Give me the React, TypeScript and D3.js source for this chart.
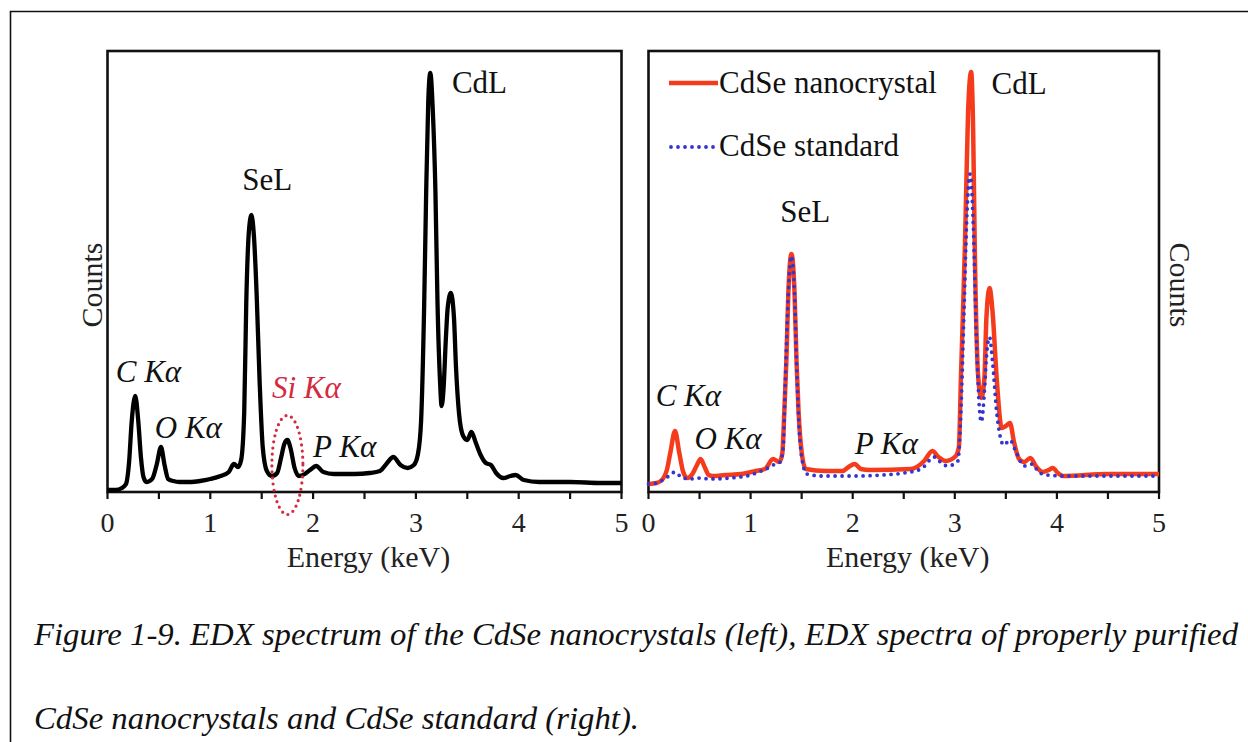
import React from "react";
import * as d3 from "d3";

// ---------- data ----------
const xTicks = [0, 1, 2, 3, 4, 5];
const xMinorTicks = [0, 0.5, 1, 1.5, 2, 2.5, 3, 3.5, 4, 4.5, 5];

const leftEnergy = [0, 0.08, 0.14, 0.18, 0.21, 0.235, 0.27, 0.3, 0.325, 0.35, 0.38, 0.41, 0.44, 0.48, 0.52, 0.555, 0.59, 0.64, 0.7, 0.8, 0.9, 1.0, 1.1, 1.18, 1.23, 1.27, 1.3, 1.33, 1.35, 1.375, 1.4, 1.425, 1.45, 1.48, 1.51, 1.55, 1.6, 1.65, 1.69, 1.72, 1.75, 1.78, 1.82, 1.86, 1.92, 1.97, 2.03, 2.1, 2.2, 2.4, 2.55, 2.65, 2.72, 2.78, 2.85, 2.92, 2.98, 3.02, 3.05, 3.08, 3.1, 3.12, 3.14, 3.165, 3.19, 3.21, 3.235, 3.25, 3.27, 3.29, 3.31, 3.34, 3.37, 3.39, 3.42, 3.46, 3.5, 3.54, 3.58, 3.63, 3.68, 3.73, 3.78, 3.85, 3.92, 3.97, 4.05, 4.2, 4.5, 4.8, 5.0];
const leftCounts = [2, 2, 4, 8, 30, 70, 96, 70, 35, 15, 10, 11, 14, 28, 45, 27, 13, 11, 10, 10, 11, 13, 16, 20, 28, 25, 32, 80, 190, 260, 277, 255, 200, 110, 45, 21, 16, 19, 35, 48, 52, 44, 24, 16, 18, 22, 26, 20, 18, 18, 19, 21, 29, 35, 27, 24, 27, 38, 70, 185, 300, 390, 419, 380, 300, 190, 110, 86, 105, 150, 185, 199, 175, 125, 78, 56, 52, 60, 50, 37, 29, 27, 19, 14, 16, 17, 12, 10, 10, 9, 9];

const nanoEnergy = [0, 0.08, 0.14, 0.18, 0.215, 0.26, 0.3, 0.34, 0.38, 0.43, 0.47, 0.51, 0.55, 0.59, 0.63, 0.75, 0.91, 1.05, 1.14, 1.22, 1.28, 1.31, 1.33, 1.35, 1.37, 1.4, 1.43, 1.45, 1.47, 1.5, 1.54, 1.74, 1.9, 1.96, 2.02, 2.08, 2.17, 2.57, 2.7, 2.78, 2.84, 2.91, 3.01, 3.04, 3.06, 3.1, 3.13, 3.16, 3.18, 3.195, 3.23, 3.26, 3.29, 3.31, 3.34, 3.37, 3.41, 3.46, 3.5, 3.54, 3.58, 3.63, 3.68, 3.74, 3.8, 3.86, 3.92, 3.96, 4.01, 4.06, 4.5, 5.0];
const nanoCounts = [8, 9, 13, 22, 40, 61, 40, 20, 14, 18, 26, 33, 25, 17, 16, 17, 18, 21, 23, 33, 30, 38, 80, 130, 200, 238, 200, 130, 80, 40, 23, 21, 21, 25, 28, 23, 22, 23, 31, 41, 35, 31, 36, 45, 114, 249, 380, 420, 360, 249, 114, 94, 114, 175, 204, 180, 114, 64, 66, 69, 50, 33, 30, 34, 25, 20, 22, 24, 19, 16, 18, 18];

const stdEnergy = [0, 0.08, 0.14, 0.2, 0.26, 0.32, 0.4, 0.51, 0.6, 0.8, 1.0, 1.08, 1.17, 1.24, 1.29, 1.32, 1.34, 1.37, 1.4, 1.43, 1.45, 1.47, 1.5, 1.55, 1.7, 2.0, 2.3, 2.5, 2.67, 2.8, 2.88, 2.93, 3.03, 3.06, 3.09, 3.12, 3.15, 3.18, 3.21, 3.24, 3.26, 3.29, 3.31, 3.34, 3.37, 3.41, 3.48, 3.54, 3.6, 3.68, 3.76, 3.82, 3.9, 4.1, 5.0];
const stdCounts = [8, 9, 12, 16, 20, 15, 13, 14, 13, 14, 17, 20, 24, 28, 30, 45, 110, 200, 236, 200, 130, 75, 35, 18, 16, 16, 17, 19, 23, 35, 28, 26, 31, 80, 180, 280, 318, 270, 160, 85, 70, 100, 135, 155, 130, 80, 47, 52, 40, 26, 28, 20, 17, 16, 16];

const leftLabels = [
  { text: "CdL", e: 3.35, v: 399, italic: false, color: "#111" },
  { text: "SeL", e: 1.31, v: 302, italic: false, color: "#111" },
  { text: "C Kα", e: 0.08, v: 110, italic: true, color: "#111" },
  { text: "O Kα", e: 0.46, v: 54, italic: true, color: "#111" },
  { text: "Si Kα", e: 1.6, v: 94, italic: true, color: "#d42a3f" },
  { text: "P Kα", e: 2.0, v: 35, italic: true, color: "#111" },
];
const rightLabels = [
  { text: "CdL", e: 3.36, v: 398, italic: false },
  { text: "SeL", e: 1.29, v: 270, italic: false },
  { text: "C Kα", e: 0.07, v: 86, italic: true },
  { text: "O Kα", e: 0.45, v: 43, italic: true },
  { text: "P Kα", e: 2.02, v: 38, italic: true },
];

const legendItems = ["CdSe nanocrystal", "CdSe standard"];
const captionLines = [
  "Figure 1-9. EDX spectrum of the CdSe nanocrystals (left), EDX spectra of properly purified",
  "CdSe nanocrystals and CdSe standard (right).",
];

// ---------- layout ----------
const W = 1248;
const H = 742;
const TOP = 51;
const BOTTOM = 492;
const FONT = "'Liberation Serif', 'Times New Roman', serif";
const RED = "#f43c1c";
const BLUE = "#3434d0";

const yScale = d3.scaleLinear().domain([0, 441]).range([BOTTOM, TOP]);
const xLeft = d3.scaleLinear().domain([0, 5]).range([107.5, 621.5]);
const xRight = d3.scaleLinear().domain([0, 5]).range([648.5, 1159]);

function makeLine(x: d3.ScaleLinear<number, number>, es: number[], vs: number[]) {
  const pts = es.map((e, i) => [e, vs[i]] as [number, number]);
  return d3
    .line<[number, number]>()
    .x((d) => x(d[0]))
    .y((d) => yScale(d[1]))
    .curve(d3.curveMonotoneX)(pts) as string;
}

function Axis({ x }: { x: d3.ScaleLinear<number, number> }) {
  const [x0, x1] = x.range();
  return (
    <g>
      <rect x={x0} y={TOP} width={x1 - x0} height={BOTTOM - TOP} fill="none" stroke="#111" strokeWidth={2.6} />
      {xMinorTicks.map((t) => (
        <line key={"m" + t} x1={x(t)} x2={x(t)} y1={BOTTOM} y2={BOTTOM + 7} stroke="#111" strokeWidth={2.2} />
      ))}
      {xTicks.map((t) => (
        <text key={t} x={x(t)} y={532} textAnchor="middle" fontSize={28} fontFamily={FONT} fill="#222">
          {t}
        </text>
      ))}
      <text x={(x0 + x1) / 2 + 4} y={567} textAnchor="middle" fontSize={30} fontFamily={FONT} fill="#222">
        Energy (keV)
      </text>
    </g>
  );
}

export default function App() {
  const leftPath = makeLine(xLeft, leftEnergy, leftCounts);
  const nanoPath = makeLine(xRight, nanoEnergy, nanoCounts);
  const stdPath = makeLine(xRight, stdEnergy, stdCounts);
  return (
    <svg
      width={W}
      height={H}
      style={{ position: "absolute", left: 0, top: 0, background: "#fff" }}
      fontFamily={FONT}
    >
      <rect x={0} y={0} width={W} height={H} fill="#fff" />
      <path d={`M10.5 ${H} V11.5 H${W}`} fill="none" stroke="#111" strokeWidth={1.6} />

      {/* Left panel */}
      <Axis x={xLeft} />
      <path d={leftPath} fill="none" stroke="#000" strokeWidth={4.3} strokeLinejoin="round" />
      <ellipse cx={xLeft(1.75)} cy={yScale(27)} rx={15.5} ry={49.5} fill="none" stroke="#d42a3f" strokeWidth={3.2} strokeDasharray="0 6" strokeLinecap="round" />
      {leftLabels.map((l) => (
        <text key={l.text} x={xLeft(l.e)} y={yScale(l.v)} fontSize={31} fontStyle={l.italic ? "italic" : "normal"} fill={l.color}>
          {l.text}
        </text>
      ))}
      <text transform="translate(102,285) rotate(-90)" textAnchor="middle" fontSize={30} fill="#222">
        Counts
      </text>

      {/* Right panel */}
      <Axis x={xRight} />
      <path d={nanoPath} fill="none" stroke={RED} strokeWidth={4.5} strokeLinejoin="round" />
      <path d={stdPath} fill="none" stroke={BLUE} strokeWidth={3.8} strokeDasharray="0 7" strokeLinecap="round" />
      {rightLabels.map((l) => (
        <text key={l.text} x={xRight(l.e)} y={yScale(l.v)} fontSize={31} fontStyle={l.italic ? "italic" : "normal"} fill="#111">
          {l.text}
        </text>
      ))}
      <line x1={669} x2={718} y1={83} y2={83} stroke={RED} strokeWidth={4.5} />
      <text x={719} y={93} fontSize={31} fill="#111">{legendItems[0]}</text>
      <line x1={671} x2={718} y1={147} y2={147} stroke={BLUE} strokeWidth={3.8} strokeDasharray="0 7" strokeLinecap="round" />
      <text x={719} y={156} fontSize={31} fill="#111">{legendItems[1]}</text>
      <text transform="translate(1170,285) rotate(90)" textAnchor="middle" fontSize={30} fill="#222">
        Counts
      </text>

      {/* Caption */}
      <text x={34} y={645} fontSize={32} fontStyle="italic" fill="#111" textLength={1204} lengthAdjust="spacingAndGlyphs">
        {captionLines[0]}
      </text>
      <text x={34} y={729} fontSize={32} fontStyle="italic" fill="#111" textLength={605} lengthAdjust="spacingAndGlyphs">
        {captionLines[1]}
      </text>
    </svg>
  );
}
